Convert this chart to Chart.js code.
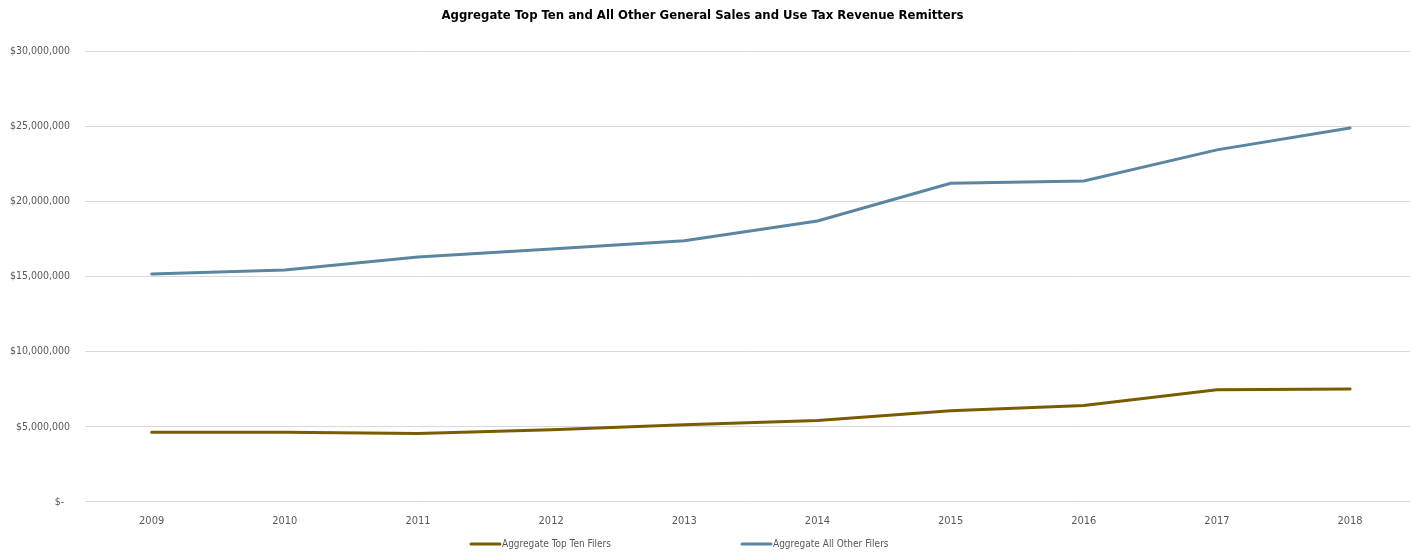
<!DOCTYPE html>
<html>
<head>
<meta charset="utf-8">
<title>Aggregate Top Ten and All Other General Sales and Use Tax Revenue Remitters</title>
<script src="https://cdn.jsdelivr.net/npm/chart.js@4.4.1/dist/chart.umd.min.js"></script>
<style>
    html, body { margin: 0; padding: 0; background: #ffffff; overflow: hidden; }
    #wrap { position: relative; width: 1410px; height: 553px; }
</style>
</head>
<body>
<div id="wrap"><canvas id="remittersChart"></canvas></div>
<script>
// Fiscal years and yearly totals (dollars)
const years = [2009, 2010, 2011, 2012, 2013, 2014, 2015, 2016, 2017, 2018];
const topTenFilers = [4640000, 4640000, 4550000, 4800000, 5130000, 5420000, 6070000, 6420000, 7470000, 7510000];
const allOtherFilers = [15180000, 15450000, 16310000, 16850000, 17400000, 18710000, 21220000, 21380000, 23450000, 24910000];
const yTicks = [0, 5000000, 10000000, 15000000, 20000000, 25000000, 30000000];

const narrow = "'DejaVu Sans Condensed', 'Liberation Sans Narrow', sans-serif";
const brown = "#7a5c00";
const steel = "#5b86a1";

// pair each year with its value
function toPoints(values) {
    return years.map((yr, i) => ({ x: yr, y: values[i] }));
}

// Bottom legend: short line sample followed by the series name, items spread wide apart
const wideLegend = {
    id: "wideLegend",
    afterDraw(chart) {
        const c = chart.ctx;
        const starts = [470, 741];
        const y = 544;
        c.save();
        c.font = "10px " + narrow;
        c.textBaseline = "middle";
        c.textAlign = "left";
        chart.data.datasets.forEach((ds, i) => {
            const x = starts[i];
            c.strokeStyle = ds.borderColor;
            c.lineWidth = 3;
            c.lineCap = "round";
            c.beginPath();
            c.moveTo(x + 1, y);
            c.lineTo(x + 30, y);
            c.stroke();
            c.fillStyle = "#595959";
            c.fillText(ds.label, x + 32, y);
        });
        c.restore();
    }
};

document.addEventListener("DOMContentLoaded", function() {
    const ctx = document.getElementById("remittersChart").getContext("2d");
    new Chart(ctx, {
        type: "line",
        data: {
            datasets: [
                {
                    label: "Aggregate Top Ten Filers",
                    data: toPoints(topTenFilers),
                    borderColor: brown,
                    backgroundColor: brown,
                    borderWidth: 3,
                    pointRadius: 0,
                    tension: 0,
                    borderCapStyle: "round"
                },
                {
                    label: "Aggregate All Other Filers",
                    data: toPoints(allOtherFilers),
                    borderColor: steel,
                    backgroundColor: steel,
                    borderWidth: 3,
                    pointRadius: 0,
                    tension: 0,
                    borderCapStyle: "round"
                }
            ]
        },
        options: {
            responsive: true,
            maintainAspectRatio: false,
            animation: false,
            layout: { padding: { left: -5, right: 0, top: 0, bottom: 20 } },
            plugins: {
                title: {
                    display: true,
                    text: "Aggregate Top Ten and All Other General Sales and Use Tax Revenue Remitters",
                    color: "#000000",
                    font: { family: narrow, size: 13, weight: "bold" },
                    padding: { top: 8, bottom: 28 }
                },
                legend: { display: false },
                tooltip: { enabled: false }
            },
            scales: {
                x: {
                    type: "linear",
                    // half a year either side; the last column runs past the right edge
                    min: 2008.5,
                    max: 2018.45,
                    afterBuildTicks: function(axis) {
                        axis.ticks = years.map(v => ({ value: v }));
                    },
                    grid: { display: false },
                    border: { display: false },
                    ticks: {
                        color: "#595959",
                        font: { family: narrow, size: 11 },
                        padding: 5,
                        maxRotation: 0,
                        callback: function(value) { return String(value); }
                    }
                },
                y: {
                    min: 0,
                    max: 30000000,
                    afterBuildTicks: function(axis) {
                        axis.ticks = yTicks.map(v => ({ value: v }));
                    },
                    grid: { color: "#d9d9d9", lineWidth: 1, drawTicks: false },
                    border: { display: false },
                    ticks: {
                        color: "#595959",
                        font: { family: narrow, size: 10.5 },
                        padding: 15,
                        callback: function(value) {
                            return value === 0 ? "$-  " : "$" + value.toLocaleString("en-US");
                        }
                    }
                }
            }
        },
        plugins: [wideLegend]
    });
});
</script>
</body>
</html>
